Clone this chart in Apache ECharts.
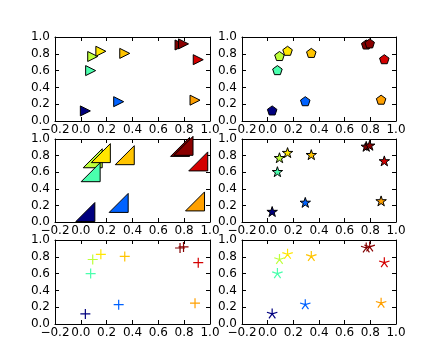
<!DOCTYPE html>
<html><head><meta charset="utf-8">
<script src="https://cdn.jsdelivr.net/npm/echarts@6/dist/echarts.min.js"></script>
<style>html,body{margin:0;padding:0;background:#fff}#c{width:440px;height:360px}</style>
</head><body><div id="c"></div>
<script>
// Data
const xValues = [0.035, 0.293, 0.092, 0.076, 0.155, 0.340, 0.884, 0.909, 0.768, 0.795];
const yValues = [0.120, 0.230, 0.768, 0.600, 0.830, 0.805, 0.248, 0.730, 0.905, 0.918];
const pointColors = ['#00007f', '#0062ff', '#bdff3a', '#4affad', '#ffe600', '#ffc400', '#ffa000', '#d40000', '#7f0000', '#8a0000'];
const xTicks = [-0.2, 0.0, 0.2, 0.4, 0.6, 0.8, 1.0];
const yTicks = [0.0, 0.2, 0.4, 0.6, 0.8, 1.0];

// Marker shapes (styles)
const B = 'M-1,-1M1,1';
const markers = [
  { symbol: 'path://M1,0L-1,-1L-1,1Z', size: 10, stroke: false },
  { symbol: 'path://' + B + 'M0,-1L0.951,-0.309L0.588,0.809L-0.588,0.809L-0.951,-0.309Z', size: 10, stroke: false },
  { symbol: 'path://M-1,1L1,1L1,-1Z', size: 19, stroke: false },
  { symbol: 'path://' + B + 'M0,-1L0.2245,-0.309L0.951,-0.309L0.363,0.118L0.588,0.809L0,0.382L-0.588,0.809L-0.363,0.118L-0.951,-0.309L-0.2245,-0.309Z', size: 11, stroke: false },
  { symbol: 'path://M0,-1L0,1M-1,0L1,0', size: 10, stroke: true },
  { symbol: 'path://' + B + 'M0,0L0,-1M0,0L0.951,-0.309M0,0L0.588,0.809M0,0L-0.588,0.809M0,0L-0.951,-0.309', size: 11, stroke: true }
];

const colLeft = [55, 242];
const colWidth = [155, 154];
const rowTop = [37, 139, 240];
const rowHeight = [84, 83, 84];

const FONT = 'DejaVu Sans';
function fmt(v) {
  const s = Math.abs(v).toFixed(1);
  return v < -1e-9 ? '\u2212' + s : s;
}

const grid = [], xAxis = [], yAxis = [], series = [];
for (let i = 0; i < 6; i++) {
  const r = Math.floor(i / 2), c = i % 2;
  grid.push({ left: colLeft[c], top: rowTop[r], width: colWidth[c], height: rowHeight[r], outerBoundsMode: 'none', containLabel: false });
  const axLine = { show: true, onZero: false, lineStyle: { color: '#000', width: 1 } };
  const tick = { show: true, inside: true, length: 4, lineStyle: { color: '#000', width: 1 } };
  const xBase = { type: 'value', gridIndex: i, min: xTicks[0], max: xTicks[xTicks.length - 1], interval: 0.2, splitLine: { show: false }, axisLine: axLine, axisTick: tick };
  const yBase = { type: 'value', gridIndex: i, min: yTicks[0], max: yTicks[yTicks.length - 1], interval: 0.2, splitLine: { show: false }, axisLine: axLine, axisTick: tick };
  xAxis.push(Object.assign({}, xBase, { position: 'bottom', axisLabel: { show: true, interval: 0, margin: 3, fontFamily: FONT, fontSize: 12, color: '#000', formatter: fmt, hideOverlap: false } }));
  xAxis.push(Object.assign({}, xBase, { position: 'top', axisLabel: { show: false } }));
  yAxis.push(Object.assign({}, yBase, { position: 'left', axisLabel: { show: true, interval: 0, margin: 5, fontFamily: FONT, fontSize: 12, color: '#000', formatter: fmt, hideOverlap: false } }));
  yAxis.push(Object.assign({}, yBase, { position: 'right', axisLabel: { show: false } }));
  const m = markers[i];
  const data = xValues.map((x, k) => ({
    value: [x, yValues[k]],
    itemStyle: m.stroke
      ? { color: pointColors[k], borderColor: pointColors[k], borderWidth: 1.2, opacity: 1 }
      : { color: pointColors[k], borderColor: '#000', borderWidth: 1, opacity: 1 }
  }));
  series.push({
    type: 'scatter', xAxisIndex: 2 * i, yAxisIndex: 2 * i,
    symbol: m.symbol, symbolSize: m.size, clip: false,
    itemStyle: { opacity: 1 },
    data: data, z: 3
  });
}

const chart = echarts.init(document.getElementById('c'), null, { renderer: 'canvas' });
chart.setOption({
  backgroundColor: '#fff',
  animation: false,
  grid: grid, xAxis: xAxis, yAxis: yAxis, series: series
});
</script>
</body></html>
